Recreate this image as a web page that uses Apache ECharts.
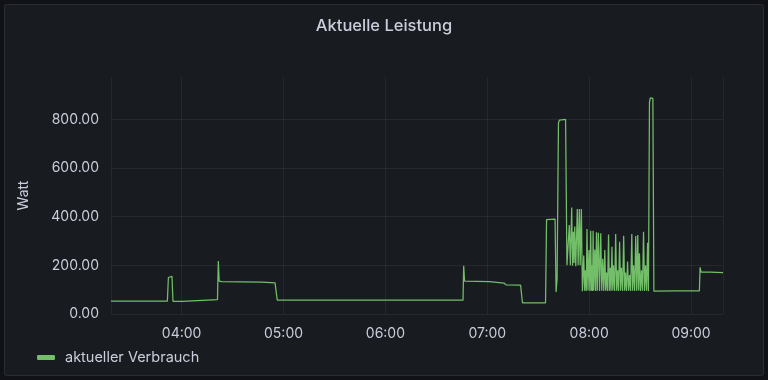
<!DOCTYPE html>
<html>
<head>
<meta charset="utf-8">
<script src="https://cdn.jsdelivr.net/npm/echarts@6/dist/echarts.min.js"></script>
<style>
  html, body { margin: 0; padding: 0; background: #111217; }
  #panel { position: absolute; left: 4px; top: 4px; width: 758px; height: 370px;
           background: #181b1f; border: 1px solid rgba(204,204,220,0.10); border-radius: 3px; }
  #chart { position: absolute; left: 0; top: 0; width: 768px; height: 380px; }
</style>
</head>
<body>
<div id="panel"></div>
<div id="chart"></div>
<script>
// Time of each sample, minutes after midnight
const minutes = [
  198.4, 231.6, 232.2, 232.8, 234.3, 234.9, 240.2, 240.8, 261.1, 261.6, 262.1, 263.7, 287.3, 288.2, 295.0, 296.3,
  405.7, 406.1, 406.6, 421.3, 422.2, 429.8, 431.0, 439.6, 440.7,
  454.3, 454.9, 455.7, 459.9, 460.5, 461.1, 461.9, 462.5, 466.1, 466.9,
  467.5, 468.3, 468.9, 469.7, 470.2, 470.7, 471.1, 471.5, 472.1, 473.0, 473.5, 474.2, 474.7, 475.4,
  476.0, 476.8, 477.3, 477.8, 478.3, 478.7, 479.3, 479.9, 480.4, 480.9,
  481.3, 481.7, 482.0, 482.3, 482.7, 483.3, 483.8, 484.3, 484.8, 485.4,
  486.1, 486.8, 487.4, 488.0, 488.6, 489.2, 489.7, 490.2, 490.8, 491.4,
  491.9, 492.4, 492.9, 493.4, 493.9, 494.3, 495.0, 495.6, 496.2, 496.7,
  497.3, 497.9, 498.5, 499.0, 499.7, 500.3, 500.9, 501.4, 502.0, 502.6,
  503.2, 503.8, 504.4, 505.1, 505.6, 506.1, 506.8, 507.4, 508.0, 508.6,
  509.1, 509.6, 510.2, 510.8, 511.4, 512.0, 512.6, 513.2, 513.8, 514.4, 514.9,
  515.5, 516.0, 517.5, 518.1, 531.1, 544.9, 545.3, 545.9, 551.2, 558.8
];
// Power in Watt
const watts = [
  53, 53, 150, 157, 155, 52, 52, 59, 59, 218, 135, 133, 131, 128, 128, 57,
  57, 198, 135, 133, 128, 127, 120, 119, 46,
  46, 388, 392, 390, 90, 145, 785, 797, 800, 200,
  196, 366, 200, 438, 198, 338, 210, 360, 196, 431, 200, 431, 200, 431,
  94, 240, 96, 180, 95, 349, 97, 263, 95, 342,
  96, 200, 95, 342, 97, 265, 95, 336, 96, 334,
  95, 332, 96, 227, 95, 263, 96, 170, 95, 327,
  96, 190, 95, 276, 97, 200, 95, 329, 96, 180,
  95, 297, 96, 190, 95, 322, 96, 170, 95, 216,
  96, 160, 95, 329, 96, 200, 95, 320, 96, 325,
  97, 250, 95, 180, 96, 338, 95, 200, 96, 293, 94,
  870, 888, 886, 94, 95, 95, 192, 172, 172, 170
];
const seriesName = 'aktueller Verbrauch';
const chartTitle = 'Aktuelle Leistung';
const yName = 'Watt';
const xRangeMinutes = [198.4, 558.8];
const yRange = [0, 974];
const yStep = 200;

const BASE = Date.UTC(2024, 0, 1);
const toTs = m => BASE + m * 60000;
const data = minutes.map((m, i) => [toTs(m), watts[i]]);

const TEXT = '#ccccdc';
const GRID = 'rgba(204,204,220,0.08)';
const FONT = 'Inter';

const chart = echarts.init(document.getElementById('chart'), null, { renderer: 'canvas' });
chart.setOption({
  useUTC: true,
  animation: false,
  backgroundColor: 'transparent',
  textStyle: { fontFamily: FONT },
  title: {
    text: chartTitle, left: 'center', top: 13,
    textStyle: { color: TEXT, fontSize: 16.5, fontWeight: 500, fontFamily: FONT }
  },
  grid: { left: 111, right: 45, top: 77, bottom: 66, containLabel: false },
  legend: {
    left: 32, top: 345,
    icon: 'roundRect', itemWidth: 18, itemHeight: 5,
    data: [seriesName],
    textStyle: { color: TEXT, fontSize: 14.5, fontFamily: FONT, padding: [0, 0, 0, 5] }
  },
  xAxis: {
    type: 'time',
    min: toTs(xRangeMinutes[0]), max: toTs(xRangeMinutes[1]),
    minInterval: 3600000, maxInterval: 3600000,
    axisLine: { show: false }, axisTick: { show: false },
    axisLabel: { color: TEXT, fontSize: 14, fontFamily: FONT, margin: 13,
                 formatter: '{HH}:{mm}', showMinLabel: false, showMaxLabel: false },
    splitLine: { show: true, lineStyle: { color: GRID, width: 1 } }
  },
  yAxis: {
    type: 'value', min: yRange[0], max: yRange[1], interval: yStep,
    name: yName, nameLocation: 'middle', nameGap: 80, nameRotate: 90,
    nameTextStyle: { color: TEXT, fontSize: 14, fontFamily: FONT },
    axisLine: { show: false }, axisTick: { show: false },
    axisLabel: { color: TEXT, fontSize: 14, fontFamily: FONT, margin: 12, showMaxLabel: false,
                 formatter: v => (v % yStep === 0 ? v.toFixed(2) : '') },
    splitLine: { show: true, showMaxLine: false, lineStyle: { color: GRID, width: 1 } }
  },
  series: [{
    name: seriesName, type: 'line', data: data,
    showSymbol: false, symbol: 'none', sampling: null,
    lineStyle: { color: '#73bf69', width: 1.25 },
    itemStyle: { color: '#73bf69' }
  }]
});
</script>
</body>
</html>
